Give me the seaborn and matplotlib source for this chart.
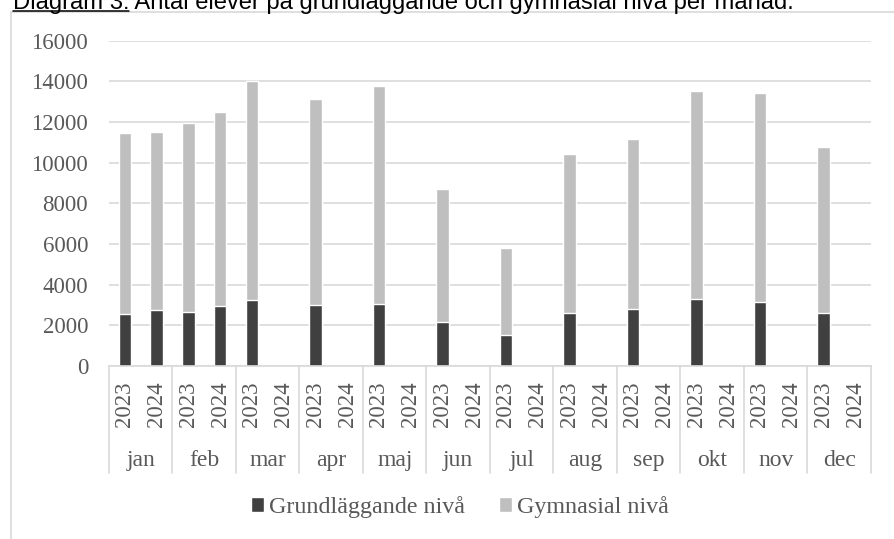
import pandas as pd
import seaborn as sns
import matplotlib.pyplot as plt
from matplotlib.patches import Patch
from matplotlib.lines import Line2D

# values
months = ["jan", "feb", "mar", "apr", "maj", "jun", "jul", "aug", "sep", "okt", "nov", "dec"]
years = ["2023", "2024"]
grund_2023 = [2550, 2670, 3230, 3000, 3030, 2180, 1520, 2600, 2780, 3290, 3140, 2620]
gymn_2023 = [8900, 9280, 10770, 10150, 10740, 6520, 4300, 7850, 8390, 10250, 10280, 8140]
grund_2024 = [2750, 2970]   # only jan, feb
gymn_2024 = [8750, 9530]

rows = []
for i, m in enumerate(months):
    rows.append({"slot": m + " 2023", "grund": grund_2023[i], "gymn": gymn_2023[i]})
    if i < len(grund_2024):
        rows.append({"slot": m + " 2024", "grund": grund_2024[i], "gymn": gymn_2024[i]})
df = pd.DataFrame(rows)
df["total"] = df["grund"] + df["gymn"]
order = [m + " " + y for m in months for y in years]

sns.set_style("white")
plt.rcParams["font.family"] = ["Liberation Serif", "DejaVu Serif"]

dark = "#404040"
light = "#bfbfbf"
grid = "#d9d9d9"
txt = "#595959"
W, H = 895, 539

fig = plt.figure(figsize=(W / 100, H / 100), dpi=100)
ax = fig.add_axes([109 / W, 1 - 366 / H, (871 - 109) / W, (366 - 40.7) / H])

sns.barplot(data=df, x="slot", y="total", order=order, color=light, width=0.39,
            saturation=1, errorbar=None, ax=ax)
sns.barplot(data=df, x="slot", y="grund", order=order, color=dark, width=0.39,
            saturation=1, errorbar=None, ax=ax)

ax.set_xlim(-0.5, 23.5)
ax.set_ylim(0, 16000)
ax.set_yticks(range(0, 16001, 2000))
ax.yaxis.grid(True, color=grid, lw=1.2)
ax.set_axisbelow(True)
for s in ["left", "top", "right"]:
    ax.spines[s].set_visible(False)
ax.spines["bottom"].set_color(grid)
ax.spines["bottom"].set_linewidth(1.2)
ax.set_xlabel("")
ax.set_ylabel("")

ax.set_xticks(range(24))
ax.set_xticklabels([y for m in months for y in years], rotation=90)
ax.tick_params(axis="x", length=0, pad=11.3, labelsize=16.5, labelcolor=txt)
ax.tick_params(axis="y", length=0, pad=15, labelsize=16.5, labelcolor=txt)

# month level of the category axis
tr = ax.get_xaxis_transform()
for k in range(13):
    x = 2 * k - 0.5
    ax.plot([x, x], [0, -0.329], transform=tr, color=grid, lw=1.2, clip_on=False)
for i, m in enumerate(months):
    ax.text(2 * i + 0.5, -0.3074, m, transform=tr, ha="center", va="baseline",
            fontsize=17, color=txt)

# chart border
fig.add_artist(Line2D([11 / W, 11 / W], [0, 1 - 12 / H], transform=fig.transFigure, color=grid, lw=1.2))
fig.add_artist(Line2D([11 / W, 1], [1 - 12 / H, 1 - 12 / H], transform=fig.transFigure, color=grid, lw=1.2))

# title, partly cut at the top
sans = ["Liberation Sans", "DejaVu Sans"]
t1 = fig.text(13 / W, 1 - 8.5 / H, "Diagram 3:", fontsize=17.1, family=sans, va="baseline", color="black")
fig.canvas.draw()
bb = t1.get_window_extent()
fig.text(bb.x1 / W, 1 - 8.5 / H, " Antal elever på grundläggande och gymnasial nivå per månad.",
         fontsize=17.1, family=sans, va="baseline", color="black")
fig.add_artist(Line2D([bb.x0 / W, bb.x1 / W], [1 - 10.7 / H, 1 - 10.7 / H],
                      transform=fig.transFigure, color="black", lw=1.1))

handles = [Patch(facecolor=dark), Patch(facecolor=light)]
fig.legend(handles, ["Grundläggande nivå", "Gymnasial nivå"], loc="center",
           bbox_to_anchor=(460 / W, 1 - 507 / H), ncol=2, frameon=False, fontsize=17.3,
           labelcolor=txt, handlelength=0.55, handleheight=0.55, handletextpad=0.2,
           columnspacing=1.4)

fig.savefig("out.png", dpi=100)
